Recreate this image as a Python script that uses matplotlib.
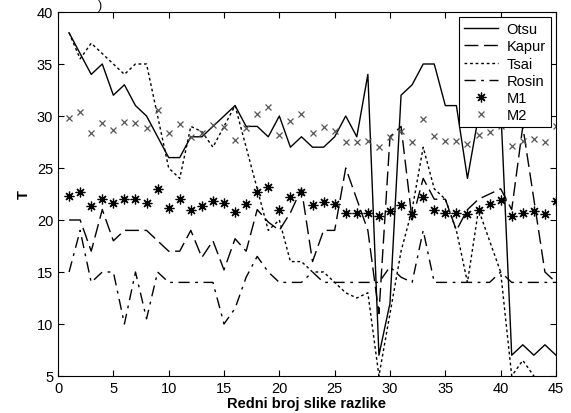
import matplotlib
matplotlib.use("Agg")
import matplotlib.pyplot as plt
import numpy as np

plt.rcParams['font.family'] = ['Liberation Sans', 'DejaVu Sans']

# redni broj slike razlike
frames = list(range(1, 46))

otsu = [38, 36, 34, 35, 32, 33, 31, 30, 28, 26, 26, 28, 28, 29, 30, 31, 29, 29, 28, 30,
        27, 28, 27, 27, 28, 30, 28, 34, 7, 12, 32, 33, 35, 35, 31, 31, 24, 30, 30, 31,
        7, 8, 7, 8, 7]
kapur = [20, 20, 17, 21, 18, 19, 19, 19, 18, 17, 17, 19, 16.4, 18, 15.2, 18.2, 17, 21, 19.8, 19,
         20.7, 23, 16, 19, 19, 25, 22, 19, 11, 28, 29, 20, 24, 22, 22, 19, 21, 22, 22.5, 23,
         21, 29, 22, 15, 14]
tsai = [38, 35.5, 37, 36, 35, 34, 35, 35, 30, 25, 24, 29, 28.5, 27, 29, 31, 27, 23, 19, 20,
        16, 16, 15, 15, 14, 13, 12.5, 13, 5, 11, 17, 21, 27, 23, 22, 19, 14, 21, 18, 15,
        5, 6.5, 5, 4, 4]
rosin = [15, 19, 14, 15, 15, 10, 15, 10.5, 15, 14, 14, 14, 14, 14, 10, 11.5, 14.5, 16.5, 15, 14,
         14, 14, 15, 14, 14, 14, 14, 14, 14, 15.5, 14.5, 14, 19, 14, 14, 14, 14, 14, 14, 15,
         14, 14, 14, 14, 14]
m1 = [22.3, 22.7, 21.3, 22, 21.6, 22, 22, 21.6, 23, 21.2, 22, 21, 21.3, 21.8, 21.6, 20.8, 21.5, 22.7, 23.2, 21,
      22.2, 22.7, 21.4, 21.7, 21.5, 20.7, 20.7, 20.7, 20.4, 20.9, 21.4, 20.6, 22.2, 21, 20.7, 20.7, 20.6, 21, 21.5, 21.9,
      20.4, 20.7, 20.9, 20.6, 21.8]
m2 = [29.8, 30.4, 28.4, 29.3, 28.7, 29.4, 29.3, 28.8, 30.6, 28.4, 29.2, 28, 28.4, 29.1, 28.9, 27.7, 28.8, 30.2, 30.9, 28.2,
      29.5, 30.2, 28.4, 28.9, 28.6, 27.5, 27.5, 27.6, 27, 28, 28.6, 27.5, 29.7, 28.1, 27.6, 27.6, 27.3, 28.2, 28.5, 29,
      27.1, 27.6, 27.8, 27.5, 29]

fig = plt.figure(figsize=(5.71, 4.14), dpi=100)
ax = fig.add_axes([0.1016, 0.0894, 0.8721, 0.8792])

ax.plot(frames, otsu, color='black', lw=1.0, label='Otsu')
ax.plot(frames, kapur, color='black', lw=1.0, dashes=(10, 4), label='Kapur')
ax.plot(frames, tsai, color='black', lw=1.0, dashes=(2, 2), label='Tsai')
ax.plot(frames, rosin, color='black', lw=1.0, dashes=(8, 4, 2, 4), label='Rosin')
# asterisk marker like the matlab one (+ and x on top of each other)
ax.plot(frames, m1, linestyle='none', marker=(8, 2, 0), color='black', ms=7, mew=0.9, label='M1')
ax.plot(frames, m2, linestyle='none', marker='x', color='#555555', ms=5, mew=0.9, label='M2')

ax.set_xlim(0, 45)
ax.set_ylim(5, 40)
ax.set_xticks(range(0, 46, 5))
ax.set_yticks(range(5, 41, 5))
ax.tick_params(direction='in', top=True, right=True, labelsize=10.5, length=4)
ax.set_xlabel('Redni broj slike razlike', fontsize=10.5, fontweight='bold', labelpad=1)
ax.set_ylabel('T', fontsize=10.5, fontweight='bold')

leg = ax.legend(loc='upper right', fontsize=10.5, fancybox=False, edgecolor='black',
                framealpha=1, borderaxespad=0.35, handlelength=2.3, labelspacing=0.22,
                borderpad=0.35, handletextpad=0.6)
leg.get_frame().set_linewidth(0.8)

fig.text(0.172, 0.999, ')', fontsize=9, va='top')

fig.savefig('out.png', dpi=100)
